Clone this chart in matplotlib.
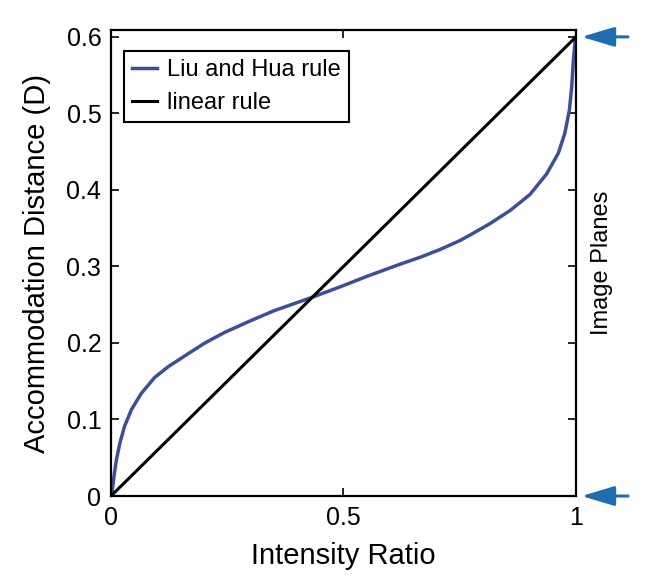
import matplotlib
matplotlib.use('Agg')
import matplotlib.pyplot as plt
import matplotlib.transforms as mtransforms

plt.rcParams['font.family'] = ['Liberation Sans', 'DejaVu Sans']

# Liu and Hua rule
liu_x = [0, 0.002, 0.0065, 0.0115, 0.019, 0.029, 0.044, 0.065, 0.094, 0.123,
         0.166, 0.202, 0.245, 0.30, 0.35, 0.434, 0.50, 0.55, 0.622, 0.665,
         0.707, 0.751, 0.772, 0.815, 0.858, 0.901, 0.937, 0.962, 0.976, 0.986,
         0.991, 0.994, 0.998, 1.0]
liu_y = [0, 0.004, 0.026, 0.047, 0.069, 0.091, 0.113, 0.134, 0.155, 0.169,
         0.186, 0.200, 0.214, 0.229, 0.242, 0.26, 0.275, 0.287, 0.303, 0.312,
         0.322, 0.334, 0.341, 0.356, 0.373, 0.394, 0.421, 0.448, 0.474, 0.505,
         0.536, 0.566, 0.594, 0.6]

# linear rule
lin_x = [0, 1]
lin_y = [0, 0.6]

# image planes marked by arrows
plane_depths = [0.6, 0.0]

x_ticks = [0, 0.5, 1]
x_ticklabels = ['0', '0.5', '1']
y_ticks = [0, 0.1, 0.2, 0.3, 0.4, 0.5, 0.6]
y_ticklabels = ['0', '0.1', '0.2', '0.3', '0.4', '0.5', '0.6']

blue = '#3D4F9A'
arrow_blue = '#1E6DB0'

fig = plt.figure(figsize=(6.45, 5.8), dpi=100)
ax = fig.add_axes([0.1721, 0.1448, 0.7209, 0.8035])

ax.plot(liu_x, liu_y, color=blue, linewidth=2.5, label='Liu and Hua rule',
        solid_joinstyle='round')
ax.plot(lin_x, lin_y, color='black', linewidth=2.2, label='linear rule')

ax.set_xlim(0, 1)
ax.set_ylim(0, 0.609)
ax.set_xticks(x_ticks)
ax.set_xticklabels(x_ticklabels)
ax.set_yticks(y_ticks)
ax.set_yticklabels(y_ticklabels)
ax.tick_params(direction='in', top=True, right=True, length=6, width=1.2,
               labelsize=18, pad=7, colors='black')
for s in ax.spines.values():
    s.set_linewidth(1.6)

ax.set_xlabel('Intensity Ratio', fontsize=21, labelpad=9)
ax.set_ylabel('Accommodation Distance (D)', fontsize=21, labelpad=11)

leg = ax.legend(loc='upper left', bbox_to_anchor=(0.028, 0.955), fontsize=17,
                handlelength=1.05, handletextpad=0.4, labelspacing=0.45,
                borderpad=0.35, borderaxespad=0, fancybox=False, framealpha=1)
leg.get_frame().set_edgecolor('black')
leg.get_frame().set_linewidth(1.5)

ax.text(1.055, 0.5, 'Image Planes', transform=ax.transAxes, rotation=90,
        fontsize=17, va='center', ha='center')

# arrows pointing at the two image planes
trans = mtransforms.blended_transform_factory(ax.transAxes, ax.transData)
for d in plane_depths:
    ax.annotate('', xy=(1.012, d), xycoords=trans,
                xytext=(1.112, d), textcoords=trans,
                arrowprops=dict(arrowstyle='-|>,head_length=1.0,head_width=0.3',
                                mutation_scale=20, color=arrow_blue, lw=2.2,
                                shrinkA=0, shrinkB=0),
                annotation_clip=False)

fig.savefig('out.png', dpi=100)
